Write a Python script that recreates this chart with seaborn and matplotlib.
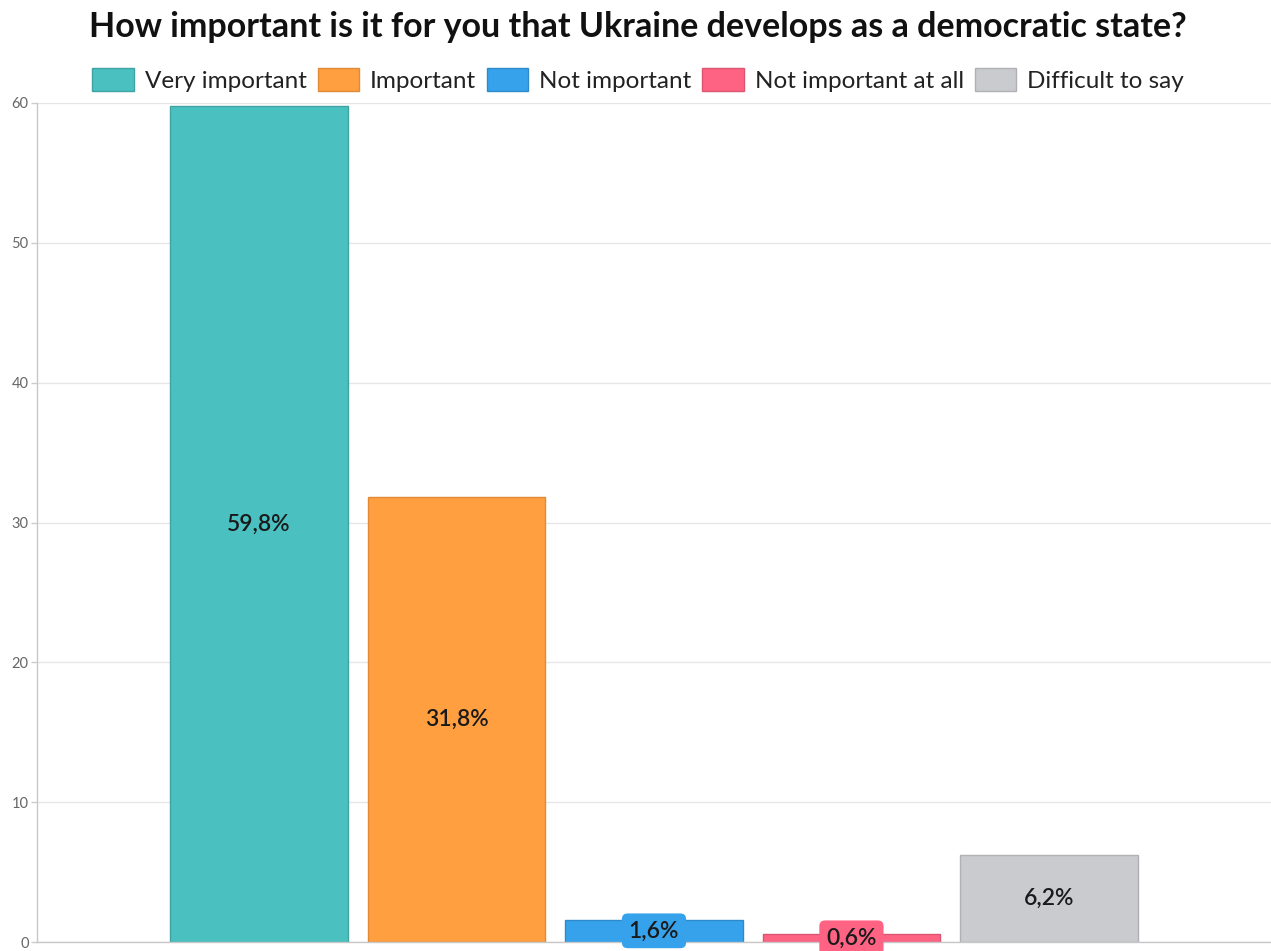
import matplotlib
matplotlib.use("Agg")
import matplotlib.pyplot as plt
import seaborn as sns
import pandas as pd
from matplotlib.patches import Patch

# Survey answers and shares (%)
categories = ["Very important", "Important", "Not important", "Not important at all", "Difficult to say"]
values = [59.8, 31.8, 1.6, 0.6, 6.2]
colors = ["#4BC0C0", "#FF9F40", "#36A2EB", "#FF6384", "#C9CBCF"]
edge_colors = ["#3FA3A3", "#E08A35", "#2E8ACA", "#DB5570", "#AFB1B5"]
y_ticks = [0, 10, 20, 30, 40, 50, 60]
title = "How important is it for you that Ukraine develops as a democratic state?"

sns.set_theme(style="white")
plt.rcParams["font.family"] = ["Lato", "DejaVu Sans"]

df = pd.DataFrame({"group": [""] * len(categories), "answer": categories, "share": values})

W, H = 1271, 951
fig = plt.figure(figsize=(W / 100, H / 100), dpi=100)
ax = fig.add_axes([37 / W, 9 / H, (W - 37) / W, (942 - 103) / H])

sns.barplot(data=df, x="group", y="share", hue="answer", hue_order=categories,
            palette=colors, saturation=1, width=0.8, gap=0.1, dodge=True, legend=False,
            ax=ax, linewidth=1, errorbar=None)

for cont, ec in zip(ax.containers, edge_colors):
    for bar in cont:
        bar.set_edgecolor(ec)

ax.set_xlim(-0.5, 0.5)
ax.set_ylim(0, 60)
ax.set_yticks(y_ticks)
ax.set_yticklabels([str(t) for t in y_ticks], fontsize=10.5, color="#666666")
ax.set_xticks([])
ax.set_xlabel("")
ax.set_ylabel("")
ax.tick_params(axis="y", which="major", left=True, length=4, width=1, color="#cccccc", pad=2)
ax.yaxis.grid(True, color="#e6e6e6", linewidth=1)
ax.set_axisbelow(True)
for side in ["top", "right"]:
    ax.spines[side].set_visible(False)
for side in ["left", "bottom"]:
    ax.spines[side].set_color("#c8c8c8")
    ax.spines[side].set_linewidth(1)

# Value labels centered in each bar, on a rounded badge in the bar colour
for cont, val, col in zip(ax.containers, values, colors):
    bar = cont[0]
    cx = bar.get_x() + bar.get_width() / 2
    ax.text(cx, val / 2, f"{val:.1f}%".replace(".", ","), ha="center", va="center",
            fontsize=16.5, fontweight="semibold", color="#1a1a1a", clip_on=False,
            bbox=dict(boxstyle="round,pad=0.3,rounding_size=0.25", fc=col, ec="none"))

fig.suptitle(title, x=0.502, y=1 - 27 / H, va="center", fontsize=24.5,
             fontweight="bold", color="#111111")

handles = [Patch(facecolor=c, edgecolor=e, linewidth=1) for c, e in zip(colors, edge_colors)]
fig.legend(handles, categories, loc="center", bbox_to_anchor=(0.502, 1 - 80 / H), ncol=5,
           frameon=False, fontsize=17.5, handlelength=1.7, handleheight=1.05,
           handletextpad=0.45, columnspacing=0.45, labelcolor="#222222")

fig.savefig("out.png", dpi=100)
